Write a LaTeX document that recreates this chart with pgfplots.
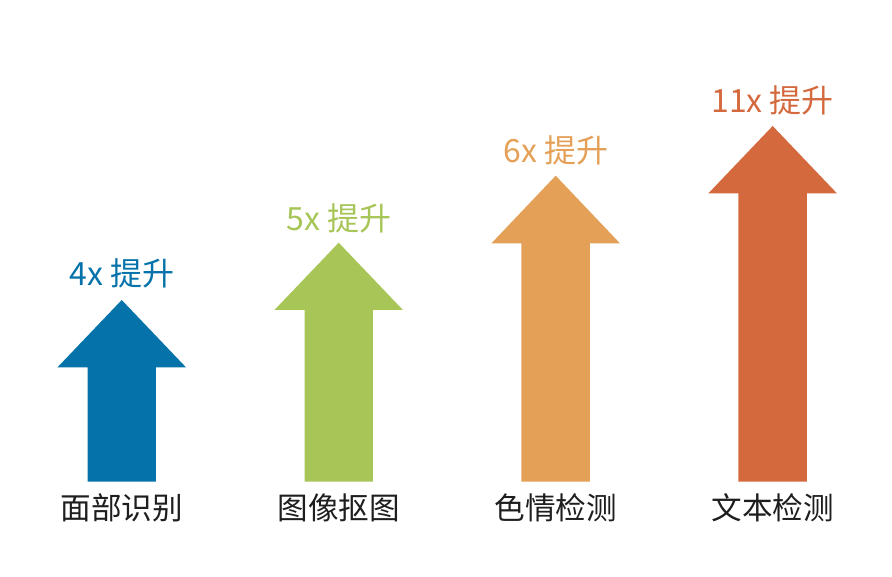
\documentclass[border=0pt]{standalone}
\usepackage{pgfplots}
\pgfplotsset{compat=1.18}
\usepackage{fontspec}
\setmainfont{Noto Sans CJK SC}
\definecolor{cblue}{HTML}{0573AA}
\definecolor{cgreen}{HTML}{A8C557}
\definecolor{corange}{HTML}{E4A056}
\definecolor{cred}{HTML}{D4693D}
\definecolor{ctext}{HTML}{1E1E1E}
\begin{document}
\begin{tikzpicture}
\begin{axis}[
  width=446pt, height=288.5pt, scale only axis,
  xmin=-0.561, xmax=3.550, ymin=-95.3, ymax=481.7,
  hide axis, clip=false,
]
% arrows: shaft half-width 0.1576, head half-width 0.296; apex / head-base heights
\addplot[fill=cblue, draw=none] coordinates {
 (-0.1576,0) (-0.1576,114.4) (-0.296,114.4) (0,181.7) (0.296,114.4) (0.1576,114.4) (0.1576,0)} -- cycle;
\addplot[fill=cgreen, draw=none] coordinates {
 (0.8424,0) (0.8424,171.7) (0.704,171.7) (1,239.0) (1.296,171.7) (1.1576,171.7) (1.1576,0)} -- cycle;
\addplot[fill=corange, draw=none] coordinates {
 (1.8424,0) (1.8424,238.4) (1.704,238.4) (2,306.0) (2.296,238.4) (2.1576,238.4) (2.1576,0)} -- cycle;
\addplot[fill=cred, draw=none] coordinates {
 (2.8424,0) (2.8424,288.4) (2.704,288.4) (3,355.7) (3.296,288.4) (3.1576,288.4) (3.1576,0)} -- cycle;
% value labels
\node[text=cblue, font=\fontsize{16pt}{19pt}\selectfont] at (axis cs:0,208.7) {4x 提升};
\node[text=cgreen, font=\fontsize{16pt}{19pt}\selectfont] at (axis cs:1,263.7) {5x 提升};
\node[text=corange, font=\fontsize{16pt}{19pt}\selectfont] at (axis cs:2,331.7) {6x 提升};
\node[text=cred, font=\fontsize{16pt}{19pt}\selectfont] at (axis cs:3,381.7) {11x 提升};
% category labels
\node[text=ctext, font=\fontsize{15.3pt}{18pt}\selectfont] at (axis cs:0,-26.3) {面部识别};
\node[text=ctext, font=\fontsize{15.3pt}{18pt}\selectfont] at (axis cs:1,-26.3) {图像抠图};
\node[text=ctext, font=\fontsize{15.3pt}{18pt}\selectfont] at (axis cs:2,-26.3) {色情检测};
\node[text=ctext, font=\fontsize{15.3pt}{18pt}\selectfont] at (axis cs:3,-26.3) {文本检测};
\path[use as bounding box] (rel axis cs:0,0) rectangle (rel axis cs:1,1);
\end{axis}
\end{tikzpicture}
\end{document}
